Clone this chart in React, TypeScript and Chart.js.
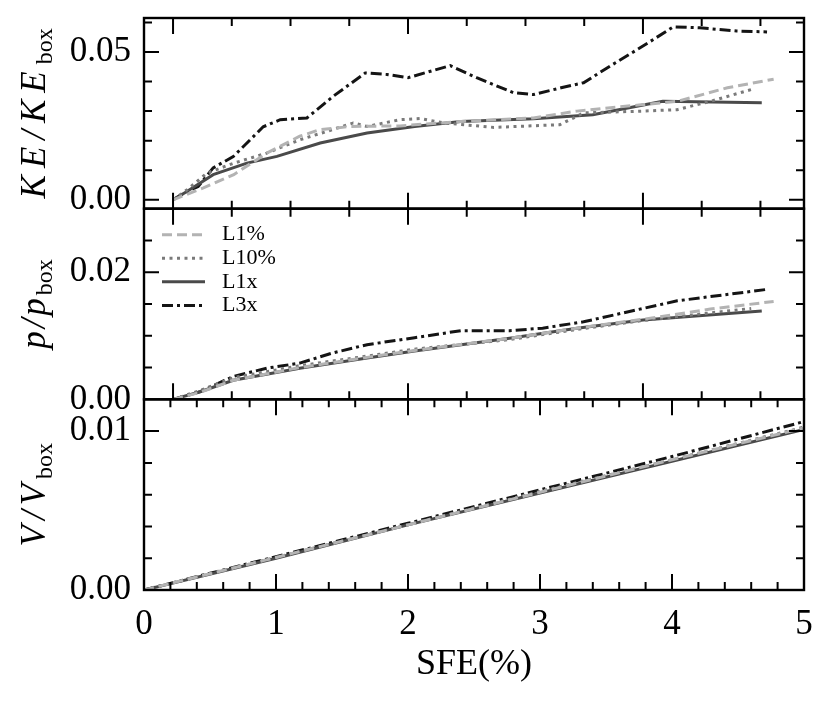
import { useEffect, useRef } from "react"
import { Chart, registerables } from "chart.js"

Chart.register(...registerables)

// series names
const seriesNames = ["L1%", "L10%", "L1x", "L3x"]

// KE / KE_box (top panel)
const keL1pctX = [0.22, 0.45, 0.68, 0.93, 1.18, 1.33, 1.56, 1.94, 2.4, 2.95, 3.28, 3.78, 4.04, 4.42, 4.77]
const keL1pctY = [0, 0.004, 0.0085, 0.0158, 0.0215, 0.0237, 0.0248, 0.025, 0.0265, 0.0277, 0.03, 0.0322, 0.0333, 0.0379, 0.0408]
const keL10pctX = [0.22, 0.33, 0.476, 0.68, 0.93, 1.18, 1.39, 1.585, 1.69, 1.94, 2.09, 2.27, 2.65, 3.15, 3.33, 3.78, 4.04, 4.29, 4.6]
const keL10pctY = [0, 0.0035, 0.009, 0.0124, 0.0158, 0.0203, 0.0232, 0.026, 0.0248, 0.0271, 0.0275, 0.026, 0.0245, 0.0254, 0.0294, 0.03, 0.0305, 0.0333, 0.0373]
const keL1xX = [0.22, 0.325, 0.524, 0.78, 1.007, 1.335, 1.69, 2.05, 2.4, 2.95, 3.4, 3.93, 4.68]
const keL1xY = [0, 0.0028, 0.0085, 0.0124, 0.0147, 0.0192, 0.0226, 0.0248, 0.0265, 0.0274, 0.0288, 0.0333, 0.0328]
const keL3xX = [0.22, 0.325, 0.41, 0.524, 0.676, 0.903, 1.032, 1.234, 1.433, 1.676, 1.84, 2.0, 2.32, 2.52, 2.8, 2.95, 3.16, 3.33, 3.53, 3.78, 4.01, 4.21, 4.49, 4.72]
const keL3xY = [0, 0.0028, 0.0045, 0.0108, 0.0146, 0.0247, 0.0271, 0.0277, 0.035, 0.0429, 0.0424, 0.0413, 0.0454, 0.0413, 0.0362, 0.0356, 0.0379, 0.0396, 0.0452, 0.052, 0.0585, 0.0582, 0.0571, 0.0568]

// p / p_box (middle panel)
const pL1pctX = [0.22, 0.426, 0.676, 1.18, 1.69, 2.05, 2.77, 3.28, 3.78, 4.29, 4.77]
const pL1pctY = [0, 0.0011, 0.003, 0.005, 0.0066, 0.0077, 0.0096, 0.0112, 0.0126, 0.0142, 0.0154]
const pL10pctX = [0.22, 0.426, 0.676, 1.18, 1.69, 2.05, 2.77, 3.28, 3.78, 4.29, 4.6]
const pL10pctY = [0, 0.0014, 0.0034, 0.0053, 0.0068, 0.0079, 0.0094, 0.011, 0.0124, 0.0136, 0.0143]
const pL1xX = [0.22, 0.426, 0.676, 1.18, 1.69, 2.05, 2.77, 3.28, 3.78, 4.68]
const pL1xY = [0, 0.0012, 0.003, 0.0049, 0.0065, 0.0076, 0.0096, 0.0112, 0.0125, 0.0139]
const pL3xX = [0.22, 0.426, 0.676, 0.93, 1.18, 1.43, 1.69, 2.05, 2.4, 2.77, 3.02, 3.33, 3.78, 4.04, 4.72]
const pL3xY = [0, 0.0012, 0.0036, 0.0049, 0.0057, 0.0073, 0.0086, 0.0097, 0.0108, 0.0108, 0.0112, 0.0122, 0.0143, 0.0155, 0.0173]

// V / V_box (bottom panel)
const vX = [0, 1, 2, 3, 4, 5]
const vL1pctY = [0, 0.00205, 0.0041, 0.00615, 0.0082, 0.0102]
const vL10pctY = [0, 0.00205, 0.0041, 0.0062, 0.0082, 0.01025]
const vL1xY = [0, 0.002, 0.0041, 0.0061, 0.0081, 0.0101]
const vL3xY = [0, 0.0021, 0.0042, 0.0063, 0.0084, 0.0106]

// tick labels
const xLabels = [0, 1, 2, 3, 4, 5]
const keTicks = [0, 0.05]
const pTicks = [0, 0.02]
const vTicks = [0, 0.01]

const seriesStyle = [
  { color: "#b3b3b3", dash: [10, 5] },
  { color: "#7a7a7a", dash: [3, 4.5] },
  { color: "#4a4a4a", dash: [] },
  { color: "#141414", dash: [11, 4, 3, 4] },
]

const FONT = "'Liberation Serif', 'Times New Roman', serif"
const LINE_W = 3

function range(start, end, step) {
  const out = []
  for (let v = start; v <= end + 1e-9; v += step) out.push(+v.toFixed(4))
  return out
}

const upperXMinor = range(0.22, 5, 0.445)
const upperXMajor = [0.22, 2.0, 3.78]

const panels = [
  { id: "yKE", min: -0.003, max: 0.0615, major: keTicks, minor: range(0, 0.06, 0.01), xMinor: upperXMinor, xMajor: upperXMajor, label: "KE/KE", spacing: 7 },
  { id: "yP", min: 0, max: 0.03, major: pTicks, minor: range(0, 0.03, 0.005), xMinor: upperXMinor, xMajor: upperXMajor, label: "p/p", spacing: 3 },
  { id: "yV", min: 0, max: 0.012, major: vTicks, minor: range(0, 0.012, 0.002), xMinor: range(0, 5, 0.2), xMajor: xLabels, label: "V/V", spacing: 5 },
]

const framePlugin = {
  id: "frame",
  afterDatasetsDraw(chart) {
    const ctx = chart.ctx
    const xs = chart.scales.x
    ctx.save()
    ctx.strokeStyle = "#000"
    for (const p of panels) {
      const ys = chart.scales[p.id]
      const top = ys.top
      const bottom = ys.bottom
      ctx.lineWidth = 2.4
      ctx.strokeRect(xs.left, top, xs.right - xs.left, bottom - top)
      ctx.lineWidth = 2
      for (const v of p.minor) {
        const y = ys.getPixelForValue(v)
        if (y < top + 1 || y > bottom - 1) continue
        const len = p.major.includes(v) ? 15 : 8
        ctx.beginPath()
        ctx.moveTo(xs.left, y)
        ctx.lineTo(xs.left + len, y)
        ctx.moveTo(xs.right, y)
        ctx.lineTo(xs.right - len, y)
        ctx.stroke()
      }
      for (const v of p.xMinor) {
        const x = xs.getPixelForValue(v)
        if (x < xs.left + 1 || x > xs.right - 1) continue
        const len = p.xMajor.includes(v) ? 16 : 8
        ctx.beginPath()
        ctx.moveTo(x, bottom)
        ctx.lineTo(x, bottom - len)
        ctx.moveTo(x, top)
        ctx.lineTo(x, top + len)
        ctx.stroke()
      }
    }
    ctx.restore()
  },
}

const labelPlugin = {
  id: "panelLabels",
  afterDraw(chart) {
    const ctx = chart.ctx
    ctx.save()
    ctx.fillStyle = "#000"
    for (const p of panels) {
      const ys = chart.scales[p.id]
      const cy = (ys.top + ys.bottom) / 2
      ctx.save()
      ctx.translate(45, cy)
      ctx.rotate(-Math.PI / 2)
      ctx.textBaseline = "alphabetic"
      ctx.textAlign = "left"
      ctx.letterSpacing = p.spacing + "px"
      ctx.font = "italic 35px " + FONT
      const mainW = ctx.measureText(p.label).width
      ctx.letterSpacing = "0px"
      ctx.font = "24px " + FONT
      const subW = ctx.measureText("box").width
      const start = -(mainW + subW) / 2
      ctx.letterSpacing = p.spacing + "px"
      ctx.font = "italic 35px " + FONT
      ctx.fillText(p.label, start, 0)
      ctx.letterSpacing = "0px"
      ctx.font = "24px " + FONT
      ctx.fillText("box", start + mainW, 7)
      ctx.restore()
    }

    // legend inside the middle panel
    const xs = chart.scales.x
    const mid = chart.scales.yP
    ctx.font = "22px " + FONT
    ctx.textBaseline = "middle"
    ctx.textAlign = "left"
    seriesNames.forEach((name, i) => {
      const y = mid.top + 26 + i * 23.6
      const st = seriesStyle[i]
      ctx.strokeStyle = st.color
      ctx.lineWidth = LINE_W
      ctx.setLineDash(st.dash)
      ctx.beginPath()
      ctx.moveTo(xs.left + 18, y)
      ctx.lineTo(xs.left + 61, y)
      ctx.stroke()
      ctx.setLineDash([])
      ctx.fillStyle = "#000"
      ctx.fillText(name, xs.left + 78, y)
    })
    ctx.restore()
  },
}

function points(xs, ys) {
  return xs.map((x, i) => ({ x, y: ys[i] }))
}

export default function App() {
  const canvasRef = useRef(null)
  const chartRef = useRef(null)

  useEffect(() => {
    if (!canvasRef.current) return
    const groups = [
      { id: "yKE", data: [points(keL1pctX, keL1pctY), points(keL10pctX, keL10pctY), points(keL1xX, keL1xY), points(keL3xX, keL3xY)] },
      { id: "yP", data: [points(pL1pctX, pL1pctY), points(pL10pctX, pL10pctY), points(pL1xX, pL1xY), points(pL3xX, pL3xY)] },
      { id: "yV", data: [points(vX, vL1pctY), points(vX, vL10pctY), points(vX, vL1xY), points(vX, vL3xY)] },
    ]
    const datasets = []
    groups.forEach((g) => {
      g.data.forEach((d, i) => {
        datasets.push({
          label: seriesNames[i],
          data: d,
          yAxisID: g.id,
          borderColor: seriesStyle[i].color,
          borderDash: seriesStyle[i].dash,
          borderWidth: LINE_W,
          borderCapStyle: "butt",
          pointRadius: 0,
          tension: 0,
          fill: false,
        })
      })
    })

    const tickFont = { family: FONT, size: 35 }
    const yScales = {}
    panels.forEach((p, i) => {
      yScales[p.id] = {
        type: "linear",
        position: "left",
        stack: "panels",
        stackWeight: 1,
        weight: 3 - i,
        min: p.min,
        max: p.max,
        afterBuildTicks: (s) => {
          s.ticks = p.major.map((v) => ({ value: v }))
        },
        afterFit: (s) => {
          s.width = 144
          s.paddingTop = 0
          s.paddingBottom = 0
        },
        ticks: { font: tickFont, color: "#000", padding: 13, autoSkip: false, callback: (v) => Number(v).toFixed(2) },
        grid: { display: false, drawTicks: false },
        border: { display: false },
      }
    })

    chartRef.current = new Chart(canvasRef.current, {
      type: "line",
      data: { datasets },
      options: {
        animation: false,
        responsive: true,
        maintainAspectRatio: false,
        layout: { padding: { top: 18, right: 27, left: 0, bottom: 0 } },
        plugins: { legend: { display: false }, tooltip: { enabled: false } },
        scales: {
          x: {
            type: "linear",
            min: 0,
            max: 5,
            afterBuildTicks: (s) => {
              s.ticks = xLabels.map((v) => ({ value: v }))
            },
            afterFit: (s) => {
              s.height = 112
            },
            ticks: { font: tickFont, color: "#000", padding: 14, autoSkip: false, maxRotation: 0, callback: (v) => String(v) },
            grid: { display: false, drawTicks: false },
            border: { display: false },
            title: { display: true, text: "SFE(%)", font: { family: FONT, size: 36 }, color: "#000", padding: { top: 0, bottom: 16 } },
          },
          ...yScales,
        },
      },
      plugins: [framePlugin, labelPlugin],
    })

    return () => {
      if (chartRef.current) {
        chartRef.current.destroy()
        chartRef.current = null
      }
    }
  }, [])

  return (
    <div style={{ position: "absolute", left: 0, top: 0, width: 831, height: 702, background: "#fff" }}>
      <canvas ref={canvasRef}></canvas>
    </div>
  )
}
